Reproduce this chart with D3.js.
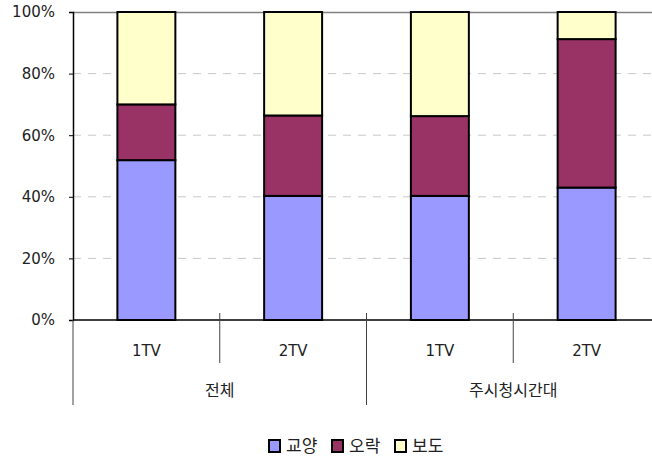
<!DOCTYPE html>
<html><head><meta charset="utf-8">
<script src="https://cdn.jsdelivr.net/npm/d3@7"></script>
<style>body{margin:0;background:#fff}svg{display:block}text{font-family:"DejaVu Sans","Noto Sans CJK KR",sans-serif;fill:#222}</style>
</head><body><svg id="c" width="652" height="460"></svg>
<script>
const groups = ["전체","주시청시간대"];
const channels = ["1TV","2TV","1TV","2TV"];
const seriesNames = ["교양","오락","보도"];
const gyoyang = [51.9,40.3,40.3,43.0];
const orak = [18.1,26.1,25.9,48.2];
const bodo = [30.0,33.6,33.8,8.8];
const colors = ["#9999FF","#993366","#FFFFCC"];
const yTicks = [0,20,40,60,80,100];

const svg = d3.select("#c");
const L=73, R=660, T=12, B=320;
const idx = d3.range(channels.length);
const x = d3.scaleBand().domain(idx).range([L,R]).paddingInner(0).paddingOuter(0);
const y = d3.scaleLinear().domain([0,100]).range([B,T]);

// gridlines
svg.append("g").selectAll("line").data(yTicks.filter(t=>t>0&&t<100)).join("line")
  .attr("x1",L).attr("x2",R).attr("y1",d=>y(d)).attr("y2",d=>y(d))
  .attr("stroke","#c8c8c8").attr("stroke-dasharray","8,7");
// top border
svg.append("line").attr("x1",L).attr("x2",R).attr("y1",T+0.5).attr("y2",T+0.5).attr("stroke","#808080").attr("stroke-width",1.5);

// stacked bars
const rows = idx.map(i=>({i, 교양:gyoyang[i], 오락:orak[i], 보도:bodo[i]}));
const stack = d3.stack().keys(seriesNames)(rows);
const bw = x.bandwidth()*0.395;
stack.forEach((s,k)=>{
  svg.append("g").selectAll("rect").data(s).join("rect")
    .attr("x",d=>x(d.data.i)+(x.bandwidth()-bw)/2)
    .attr("width",bw)
    .attr("y",d=>y(d[1]))
    .attr("height",d=>y(d[0])-y(d[1]))
    .attr("fill",colors[k]).attr("stroke","#000").attr("stroke-width",2);
});

// y axis
const ya = d3.axisLeft(y).tickValues(yTicks).tickFormat(d=>d+"%").tickSize(4).tickPadding(14);
const yg = svg.append("g").attr("transform",`translate(${L},0)`).call(ya);
yg.select(".domain").attr("stroke","#000").attr("stroke-width",1.5);
yg.selectAll(".tick line").attr("stroke","#000");
yg.selectAll("text").style("font-size","15px").style("font-family","'DejaVu Sans',sans-serif").attr("fill","#222");

// x axis line
svg.append("line").attr("x1",L).attr("x2",R).attr("y1",B).attr("y2",B).attr("stroke","#000").attr("stroke-width",1.5);

// channel labels
svg.append("g").selectAll("text").data(idx).join("text")
  .attr("x",i=>x(i)+x.bandwidth()/2).attr("y",356)
  .attr("text-anchor","middle").style("font-size","15px").text(i=>channels[i]);
// dividers within groups
svg.append("g").selectAll("line").data([1,3]).join("line")
  .attr("x1",i=>x(i)).attr("x2",i=>x(i)).attr("y1",313).attr("y2",363)
  .attr("stroke","#444");
// group dividers
svg.append("g").selectAll("line").data([0,2]).join("line")
  .attr("x1",i=>x(i)).attr("x2",i=>x(i)).attr("y1",i=>i===0?B:313).attr("y2",405)
  .attr("stroke","#444");
// group labels
svg.append("g").selectAll("text").data(groups).join("text")
  .attr("x",(d,g)=>x(g*2)+x.bandwidth()).attr("y",396)
  .attr("text-anchor","middle").style("font-size","16px").text(d=>d);

// legend
const lg = svg.append("g").attr("transform","translate(269,440)");
const lx = [0,63,126];
seriesNames.forEach((n,k)=>{
  const g = lg.append("g").attr("transform",`translate(${lx[k]},0)`);
  g.append("rect").attr("width",11).attr("height",12).attr("fill",colors[k]).attr("stroke","#000").attr("stroke-width",2);
  g.append("text").attr("x",17).attr("y",12).style("font-size","17px").text(n);
});
</script></body></html>
